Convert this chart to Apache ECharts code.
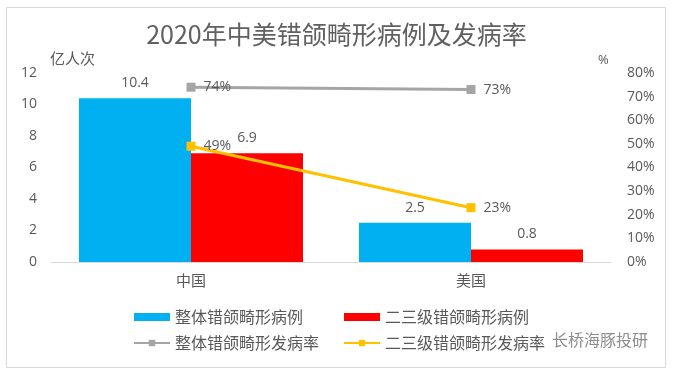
<!DOCTYPE html>
<html><head><meta charset="utf-8">
<script src="https://cdn.jsdelivr.net/npm/echarts@6/dist/echarts.min.js"></script>
<style>html,body{margin:0;padding:0;background:#fff}#c{width:673px;height:374px}</style>
</head><body><div id="c"></div>
<script>
const categories = ['中国', '美国'];
const totalCases = [10.4, 2.5];
const severeCases = [6.9, 0.8];
const totalRate = [74, 73];
const severeRate = [49, 23];
const leftTicks = [0, 2, 4, 6, 8, 10, 12];
const rightTicks = ['0%','10%','20%','30%','40%','50%','60%','70%','80%'];

const F = '"Noto Sans CJK SC","Noto Sans",sans-serif';
const N = '"Open Sans","Noto Sans",sans-serif';
const grey = '#595959';
const chart = echarts.init(document.getElementById('c'));
chart.setOption({
  animation: false,
  textStyle: {fontFamily: F},
  title: {text: '2020年中美错颌畸形病例及发病率', left: 'center', top: 17,
    textStyle: {fontSize: 25, fontWeight: 'normal', color: '#606060', fontFamily: F}},
  graphic: [
    {type: 'rect', shape: {x: 6.5, y: 7.5, width: 659, height: 360}, style: {fill: 'none', stroke: '#d9d9d9', lineWidth: 1}, silent: true},
    {type: 'text', left: 50, top: 51, style: {text: '亿人次', fontSize: 15, fill: grey, fontFamily: F}},
    {type: 'text', left: 598, top: 54, style: {text: '%', fontSize: 13, fill: grey, fontFamily: N}},
    {type: 'text', left: 552, top: 332, style: {text: '长桥海豚投研', fontSize: 16, fill: '#8c8c8c', fontFamily: F}}
  ],
  legend: [
    {left: 128, top: 304, orient: 'vertical', itemGap: 10, itemWidth: 36, itemHeight: 8,
     data: [{name: '整体错颌畸形病例', icon: 'rect'}, '整体错颌畸形发病率'],
     textStyle: {fontSize: 16, color: grey, fontFamily: F}},
    {left: 338, top: 304, orient: 'vertical', itemGap: 10, itemWidth: 36, itemHeight: 8,
     data: [{name: '二三级错颌畸形病例', icon: 'rect'}, '二三级错颌畸形发病率'],
     textStyle: {fontSize: 16, color: grey, fontFamily: F}}
  ],
  grid: {left: 51, right: 62, top: 73, bottom: 112, containLabel: false},
  xAxis: {type: 'category', data: categories,
    axisLine: {lineStyle: {color: '#d9d9d9'}}, axisTick: {show: false},
    axisLabel: {fontSize: 15, color: grey, margin: 11, fontFamily: F}},
  yAxis: [
    {type: 'value', min: leftTicks[0], max: leftTicks[leftTicks.length-1], interval: 2,
     splitLine: {show: false}, axisLine: {show: false}, axisTick: {show: false},
     axisLabel: {fontSize: 14, color: grey, margin: 14, fontFamily: N}},
    {type: 'value', min: 0, max: 80, interval: 10,
     splitLine: {show: false}, axisLine: {show: false}, axisTick: {show: false},
     axisLabel: {fontSize: 14, color: grey, margin: 16, fontFamily: N,
       formatter: v => rightTicks[v/10]}}
  ],
  series: [
    {name: '整体错颌畸形病例', type: 'bar', data: totalCases, barGap: '0%', barCategoryGap: '20%',
     itemStyle: {color: '#00B0F0'},
     label: {show: true, position: 'top', distance: 8, fontSize: 14, color: grey, fontFamily: N}},
    {name: '二三级错颌畸形病例', type: 'bar', data: severeCases,
     itemStyle: {color: '#FF0000'},
     label: {show: true, position: 'top', distance: 8, fontSize: 14, color: grey, fontFamily: N}},
    {name: '整体错颌畸形发病率', type: 'line', yAxisIndex: 1, data: totalRate,
     symbol: 'rect', symbolSize: 9, lineStyle: {color: '#A5A5A5', width: 3}, itemStyle: {color: '#A5A5A5'},
     label: {show: true, position: 'right', distance: 8, fontSize: 14, color: grey, fontFamily: N, formatter: p => p.value + '%'}},
    {name: '二三级错颌畸形发病率', type: 'line', yAxisIndex: 1, data: severeRate,
     symbol: 'rect', symbolSize: 9, lineStyle: {color: '#FFC000', width: 3}, itemStyle: {color: '#FFC000'},
     label: {show: true, position: 'right', distance: 8, fontSize: 14, color: grey, fontFamily: N, formatter: p => p.value + '%'}}
  ]
});
</script></body></html>
